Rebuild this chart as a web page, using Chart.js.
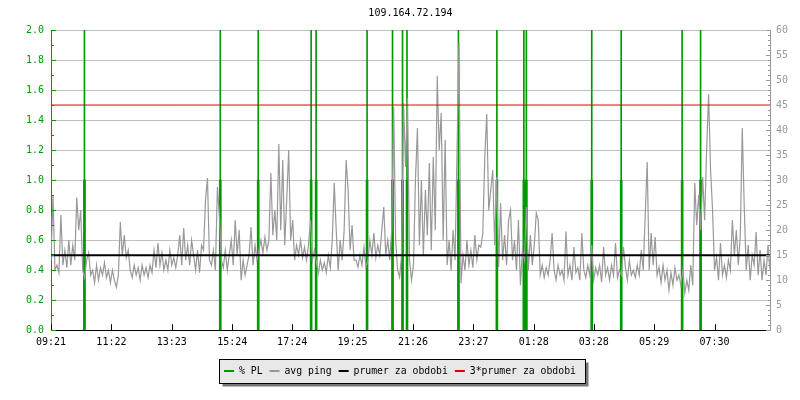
<!DOCTYPE html>
<html>
<head>
<meta charset="utf-8">
<title>109.164.72.194</title>
<script src="https://cdn.jsdelivr.net/npm/chart.js@4.4.1/dist/chart.umd.min.js"></script>
<style>
    html, body { margin: 0; padding: 0; background: #fff; }
</style>
</head>
<body>
<canvas id="pingChart" width="800" height="400"></canvas>
<script>
const hostName = '109.164.72.194';

// casova osa: minuty od 09:21, cely den
const dayMinutes = 1440;
const tickMinutes = [0, 121, 242, 363, 483, 604, 725, 846, 967, 1087, 1208, 1329];
const tickLabels = ['09:21', '11:22', '13:23', '15:24', '17:24', '19:25', '21:26', '23:27', '01:28', '03:28', '05:29', '07:30'];

// ztracene pakety (minuta od zacatku) a jejich uroven v %
const plMinutes = [67, 339, 415, 521, 531, 633, 684, 704, 713, 816, 893, 947, 952, 1083, 1142, 1264, 1301];
const plLevel = 1.0;

// prumerny ping v ms, rovnomerne pres cely den
const avgPing = [
    14, 27, 12, 13, 11.5, 23, 13, 16, 12.5, 18, 13, 17, 14,
    26.5, 20, 24, 12, 10.5, 14, 15.5, 11,
    12, 9.5, 13, 10, 12.5, 11, 13.5, 10.5, 12, 9.5, 12, 10, 8.6,
    11, 21.6, 15, 19, 14.5, 16,
    12, 10.5, 13, 11, 12.5, 10, 13, 11, 12.5, 10.5, 13, 11.5,
    16, 12.5, 17.4, 13, 15.5, 12,
    14, 12, 16, 13, 14.5, 12.5,
    15, 19, 13, 20.4, 14, 17, 13, 18,
    15, 12, 16, 11.5, 17,
    16, 26, 30.4, 14, 13, 16, 12, 28.6, 23,
    14, 12.5, 16, 12, 15, 18, 13,
    22, 15, 20, 10, 14, 11, 13,
    15, 20.6, 13, 17, 14, 16,
    18, 15.5, 18.6, 16, 18,
    31.4, 19, 24, 18, 37.2, 20, 34, 17, 26, 36, 18, 22,
    14, 17, 15, 18, 14.5, 16.6, 14, 17,
    22, 14, 16, 13.5,
    11.4, 14, 12, 13.5, 11.5, 15, 12.5,
    18, 29.4, 20, 12, 18, 14, 20, 34, 28, 16, 21, 14,
    14, 12.6, 15, 13, 16.6, 12.6,
    14, 18, 15, 19.4, 14.5, 17, 15, 20, 24.6, 15, 18, 14,
    20, 44.6, 18, 12, 10.6, 15, 45.4, 32.6, 46.4, 14, 10, 13,
    30, 40.4, 17,
    30, 15, 28, 19, 33.4, 16, 34.6,
    20, 50.8, 36, 43.4, 18, 38,
    13, 18, 12, 20, 14, 36, 57.4,
    9.4, 15, 12, 18, 13, 16, 12.5, 19, 14, 17,
    16.6, 19.4, 34.6, 43.2, 24, 28, 32, 17, 30.6, 12.6,
    25.4, 14, 19, 13, 22, 24, 14,
    18, 12, 22, 9, 16,
    14, 24.6, 12, 19, 13, 17, 23.4, 22,
    11, 13, 10.5, 12.5, 11, 14, 19.4, 12, 10, 13, 11,
    12, 10, 19.7, 11, 13, 10, 16.6, 11.5, 12.5, 10, 19.4, 12, 10.5, 13, 11, 17,
    10, 12.5, 11, 13, 9.6, 16.6, 11, 12.5, 10, 13, 11, 17.4, 10.5, 12, 11, 16.6,
    12.6, 10, 14, 11, 12, 10.5, 13, 11,
    16, 12, 23, 33.6, 12, 19.4, 13, 18.6, 11,
    12.6, 9.5, 13, 10, 12, 8, 11.5, 9, 12.5, 10, 11,
    9, 12, 7.4, 10, 8, 13, 9,
    29.4, 21, 27, 20, 30.6, 22, 36, 47.2, 32, 24,
    12, 14.6, 10, 17.4, 11, 13, 10.5, 14, 12,
    22, 15, 20, 13, 19, 40.4, 24.6,
    12, 17, 10, 15, 13, 19.6, 11, 16, 10,
    14, 11, 17, 12
];

const prumer = 15;
const prumer3 = 45;

const leftMax = 2.0;
const rightMax = 60;

const GREEN = '#009a00';
const GREY = '#999999';
const RED = '#e00000';
const MONO = '"DejaVu Sans Mono", monospace';

Chart.defaults.font.family = MONO;
Chart.defaults.font.size = 10;
Chart.defaults.color = '#000';

const step = dayMinutes / (avgPing.length - 1);

// ramecek legendy se stinem + drobne znacky na osach
const rrdLook = {
    id: 'rrdLook',
    beforeDraw(chart) {
        const boxes = chart.legend && chart.legend.legendHitBoxes;
        if (!boxes || !boxes.length) return;
        const ctx = chart.ctx;
        const first = boxes[0], last = boxes[boxes.length - 1];
        const l = Math.round(first.left - 5) + 0.5;
        const r = Math.round(last.left + last.width + 9) + 0.5;
        const t = Math.round(first.top - 7) + 0.5;
        const b = Math.round(first.top + first.height + 7) + 0.5;
        ctx.save();
        ctx.fillStyle = '#777';
        ctx.fillRect(l + 3, t + 3, r - l, b - t);
        ctx.fillStyle = '#e8e8e8';
        ctx.fillRect(l, t, r - l, b - t);
        ctx.strokeStyle = '#000';
        ctx.lineWidth = 1;
        ctx.strokeRect(l, t, r - l, b - t);
        ctx.restore();
    },
    afterDraw(chart) {
        const {ctx, chartArea: a, scales} = chart;
        ctx.save();
        ctx.lineWidth = 1;

        ctx.strokeStyle = '#000';
        ctx.beginPath();
        tickMinutes.forEach(m => {
            const px = Math.round(scales.x.getPixelForValue(m)) + 0.5;
            ctx.moveTo(px, a.bottom);
            ctx.lineTo(px, a.bottom - 6);
        });
        ctx.stroke();

        ctx.strokeStyle = GREEN;
        ctx.beginPath();
        for (let k = 0; k <= 20; k++) {
            const py = Math.round(scales.y.getPixelForValue(k / 10)) + 0.5;
            ctx.moveTo(a.left, py);
            ctx.lineTo(a.left + (k % 2 ? 3 : 5), py);
        }
        ctx.stroke();

        ctx.strokeStyle = GREY;
        ctx.beginPath();
        for (let k = 0; k <= rightMax; k++) {
            const py = Math.round(scales.y2.getPixelForValue(k)) + 0.5;
            ctx.moveTo(a.right, py);
            ctx.lineTo(a.right - (k % 5 ? 2 : 4), py);
        }
        ctx.stroke();
        ctx.restore();
    }
};

new Chart(document.getElementById('pingChart'), {
    type: 'line',
    data: {
        datasets: [{
            type: 'bar',
            label: '% PL',
            data: plMinutes.map(m => ({x: m, y: plLevel})),
            backgroundColor: GREEN,
            borderColor: GREEN,
            borderWidth: 0,
            barThickness: 2,
            grouped: false,
            yAxisID: 'y',
            order: 4
        }, {
            label: 'avg ping',
            data: avgPing.map((v, i) => ({x: i * step, y: v})),
            borderColor: GREY,
            backgroundColor: GREY,
            borderWidth: 1.2,
            pointRadius: 0,
            tension: 0,
            yAxisID: 'y2',
            order: 3
        }, {
            label: 'prumer za obdobi',
            data: [{x: 0, y: prumer}, {x: dayMinutes, y: prumer}],
            borderColor: '#000',
            backgroundColor: '#000',
            borderWidth: 2,
            pointRadius: 0,
            yAxisID: 'y2',
            order: 2
        }, {
            label: '3*prumer za obdobi',
            data: [{x: 0, y: prumer3}, {x: dayMinutes, y: prumer3}],
            borderColor: RED,
            backgroundColor: RED,
            borderWidth: 1,
            pointRadius: 0,
            yAxisID: 'y2',
            order: 1
        }, {
            // tenka cara pres celou vysku u kazde ztraty
            type: 'bar',
            label: 'pl-mark',
            data: plMinutes.map(m => ({x: m, y: leftMax})),
            backgroundColor: GREEN,
            borderWidth: 0,
            barThickness: 1,
            grouped: false,
            yAxisID: 'y',
            order: 5
        }]
    },
    options: {
        responsive: false,
        animation: false,
        events: [],
        layout: { padding: { left: 0, right: 0, top: 0, bottom: 14 } },
        scales: {
            x: {
                type: 'linear',
                min: 0,
                max: dayMinutes,
                offset: false,
                grid: { display: false, drawTicks: false },
                border: { display: true, color: '#000', width: 1 },
                ticks: {
                    color: '#000',
                    padding: 6,
                    maxRotation: 0,
                    autoSkip: false,
                    callback: (v, i) => tickLabels[i]
                },
                afterBuildTicks: axis => { axis.ticks = tickMinutes.map(v => ({value: v})); },
                afterFit: axis => { axis.height = 29; }
            },
            y: {
                position: 'left',
                min: 0,
                max: leftMax,
                grid: { color: '#c0c0c0', drawTicks: false },
                border: { color: GREEN, width: 1 },
                ticks: {
                    stepSize: 0.2,
                    color: GREEN,
                    padding: 7,
                    callback: v => v.toFixed(1)
                },
                afterFit: axis => { axis.width = 51; }
            },
            y2: {
                position: 'right',
                min: 0,
                max: rightMax,
                grid: { display: false, drawTicks: false },
                border: { color: GREY, width: 1 },
                ticks: { stepSize: 5, color: GREY, padding: 6 },
                afterFit: axis => { axis.width = 30; }
            }
        },
        plugins: {
            title: {
                display: true,
                text: hostName,
                color: '#000',
                fullSize: false,
                font: { size: 10, weight: 'normal' },
                padding: { top: 7.5, bottom: 10.5 }
            },
            legend: {
                position: 'bottom',
                labels: {
                    color: '#000',
                    font: { size: 9.8 },
                    boxWidth: 10,
                    boxHeight: 2,
                    padding: 7,
                    generateLabels: chart => Chart.defaults.plugins.legend.labels.generateLabels(chart)
                        .map(item => ({...item, lineWidth: 0})),
                    filter: item => item.datasetIndex !== 4,
                    sort: (a, b) => a.datasetIndex - b.datasetIndex
                }
            },
            tooltip: { enabled: false }
        }
    },
    plugins: [rrdLook]
});
</script>
</body>
</html>
